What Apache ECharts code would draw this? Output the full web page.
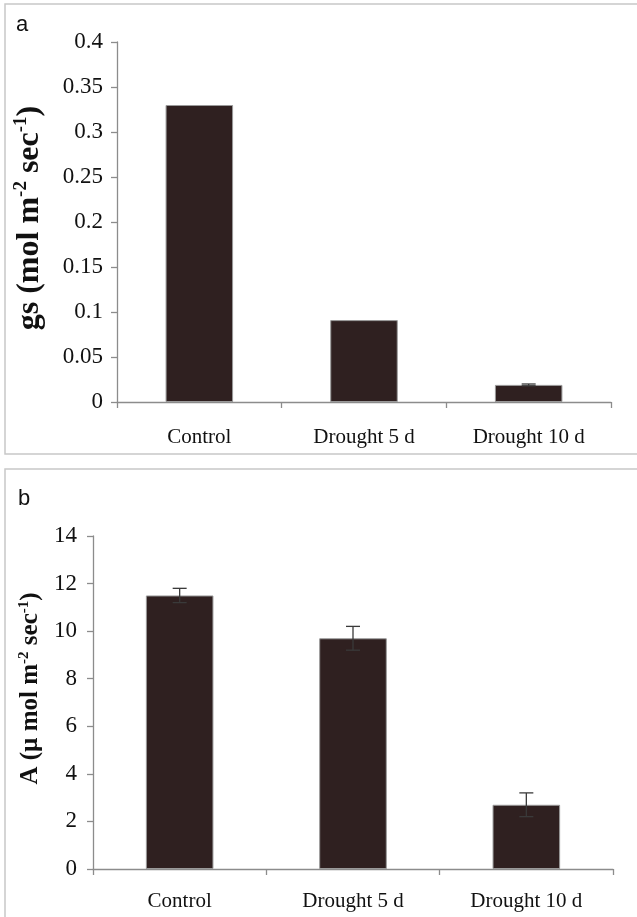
<!DOCTYPE html>
<html><head><meta charset="utf-8">
<script src="https://cdn.jsdelivr.net/npm/echarts@6/dist/echarts.min.js"></script>
<style>html,body{margin:0;padding:0;background:#fff}#c{width:637px;height:917px}</style>
</head><body><div id="c"></div>
<script>
const categories = ['Control', 'Drought 5 d', 'Drought 10 d'];
const gsMean = [0.33, 0.091, 0.019];
const gsErr = [0, 0, 0.001];
const aMean = [11.5, 9.7, 2.7];
const aErr = [0.3, 0.5, 0.5];
const gsTicks = {min: 0, max: 0.4, interval: 0.05};
const aTicks = {min: 0, max: 14, interval: 2};

const SERIF = 'Liberation Serif, Times New Roman, serif';
const BAR = '#2f2020';
const AXIS = '#8c8c8c';

function errSeries(x, y, means, errs) {
  return {
    type: 'custom', xAxisIndex: x, yAxisIndex: y, z: 5,
    data: means.map((m, i) => [i, m - errs[i], m + errs[i], errs[i]]),
    renderItem: function (params, api) {
      if (!api.value(3)) return null;
      const lo = api.coord([api.value(0), api.value(1)]);
      const hi = api.coord([api.value(0), api.value(2)]);
      const w = 7;
      const st = {stroke: '#3a3a3a', lineWidth: 1.3};
      return {type: 'group', children: [
        {type: 'line', shape: {x1: lo[0], y1: lo[1], x2: hi[0], y2: hi[1]}, style: st},
        {type: 'line', shape: {x1: hi[0] - w, y1: hi[1], x2: hi[0] + w, y2: hi[1]}, style: st},
        {type: 'line', shape: {x1: lo[0] - w, y1: lo[1], x2: lo[0] + w, y2: lo[1]}, style: st}
      ]};
    }
  };
}

function yAxis(grid, t, name, gap, fmt, fs, margin, shift) {
  return {
    type: 'value', gridIndex: grid, min: t.min, max: t.max, interval: t.interval,
    splitLine: {show: false},
    axisLine: {show: true, lineStyle: {color: AXIS, width: 1.3}},
    axisTick: {show: true, length: 6, lineStyle: {color: AXIS, width: 1.3}},
    axisLabel: {color: '#111', fontFamily: SERIF, fontSize: 23, margin: margin, formatter: fmt},
    name: name, nameLocation: 'middle', nameRotate: 90, nameGap: gap,
    nameTextStyle: {
      padding: [0, 0, 0, shift],
      rich: {
        b: {fontFamily: SERIF, fontWeight: 'bold', fontSize: fs, color: '#111'},
        s: {fontFamily: SERIF, fontWeight: 'bold', fontSize: Math.round(fs * 0.6), color: '#111', padding: [0, 0, Math.round(fs * 0.5), 0]}
      }
    }
  };
}

function xAxis(grid, margin) {
  return {
    type: 'category', gridIndex: grid, data: categories,
    axisLine: {show: true, lineStyle: {color: AXIS, width: 1.3}},
    axisTick: {show: true, length: 6, lineStyle: {color: AXIS, width: 1.3}},
    axisLabel: {color: '#111', fontFamily: SERIF, fontSize: 21, margin: margin}
  };
}

const chart = echarts.init(document.getElementById('c'), null, {renderer: 'canvas'});
chart.setOption({
  backgroundColor: '#fff',
  animation: false,
  graphic: [
    {type: 'rect', shape: {x: 5, y: 4, width: 700, height: 450}, style: {fill: 'none', stroke: '#c8c8c8', lineWidth: 1.5}},
    {type: 'rect', shape: {x: 5, y: 469, width: 700, height: 500}, style: {fill: 'none', stroke: '#c8c8c8', lineWidth: 1.5}},
    {type: 'text', left: 16, top: 14, style: {text: 'a', font: '22px Liberation Sans, Arial, sans-serif', fill: '#111'}},
    {type: 'text', left: 18, top: 488, style: {text: 'b', font: '22px Liberation Sans, Arial, sans-serif', fill: '#111'}}
  ],
  grid: [
    {left: 117, top: 42, width: 494, height: 360},
    {left: 93, top: 536, width: 520, height: 333}
  ],
  xAxis: [xAxis(0, 25), xAxis(1, 22)],
  yAxis: [
    yAxis(0, gsTicks, '{b|gs (mol m}{s|-2}{b| sec}{s|-1}{b|)}', 70, v => String(+v.toFixed(2)), 32, 14, 8),
    yAxis(1, aTicks, '{b|A (µ mol m}{s|-2}{b| sec}{s|-1}{b|)}', 48, v => String(v), 25, 16, 28)
  ],
  series: [
    {type: 'bar', xAxisIndex: 0, yAxisIndex: 0, data: gsMean, barWidth: '41%',
     itemStyle: {color: BAR, borderColor: '#9a9a9a', borderWidth: 1}},
    errSeries(0, 0, gsMean, gsErr),
    {type: 'bar', xAxisIndex: 1, yAxisIndex: 1, data: aMean, barWidth: '39%',
     itemStyle: {color: BAR, borderColor: '#9a9a9a', borderWidth: 1}},
    errSeries(1, 1, aMean, aErr)
  ]
});
</script></body></html>
